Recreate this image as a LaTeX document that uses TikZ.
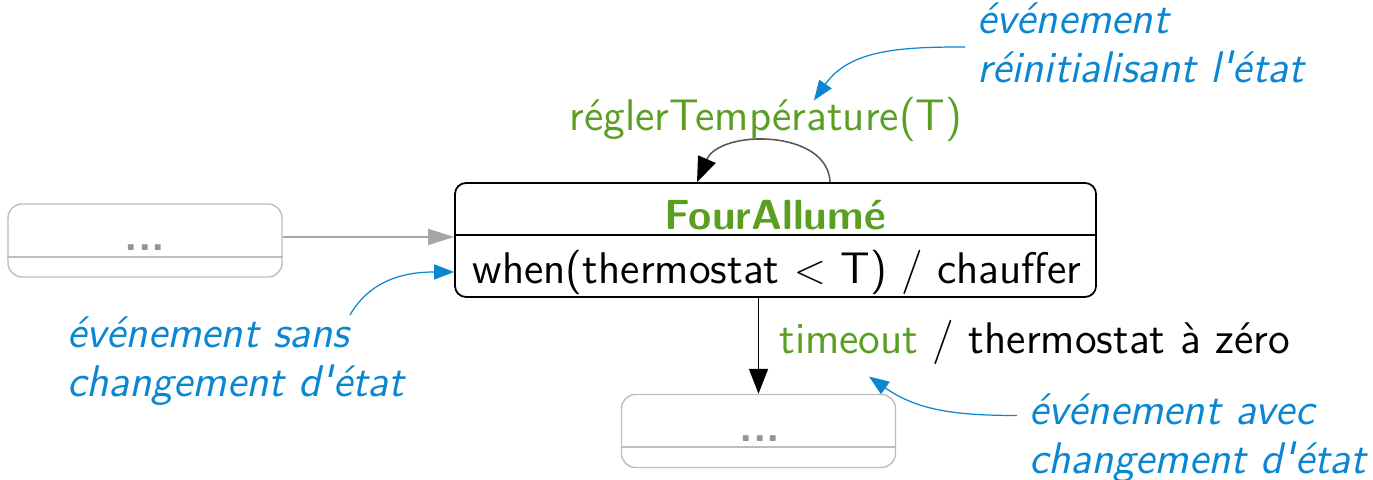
\documentclass[tikz,border=0pt]{standalone}
\usepackage{fontspec}
\setsansfont{Latin Modern Sans}[Ligatures=TeXOff]
\usetikzlibrary{positioning, arrows.meta}
\definecolor{stGreen}{HTML}{5A9E22}
\definecolor{noteBlue}{HTML}{0A86D2}
\definecolor{ghostGray}{HTML}{BDBDBD}
\tikzset{
  every node/.style={font=\sffamily\fontsize{12.6}{14}\selectfont},
  arr/.style={-{Triangle[length=2.5mm, width=1.9mm, color=black]}, line width=0.45pt},
  arrGhost/.style={-{Triangle[length=2.6mm, width=1.6mm]}, line width=0.45pt, black!35},
  arrNote/.style={-{Triangle[length=2mm, width=1.5mm]}, noteBlue, line width=0.35pt},
  state/.style={draw, rounded corners=1.1mm, minimum width=64.1mm, minimum height=11.4mm, line width=0.5pt},
  ghost/.style={draw=ghostGray, rounded corners=1.4mm, minimum width=27.4mm, minimum height=7.3mm},
  dots/.style={text=black!42, font=\sffamily\bfseries\fontsize{12.6}{14}\selectfont},
  note/.style={text=noteBlue, font=\sffamily\itshape\fontsize{12.6}{14}\selectfont, align=left, anchor=west},
}

\begin{document}
\begin{tikzpicture}[x=0.1mm, y=0.1mm]
  \useasboundingbox (0,0) rectangle (1373,480);
  % the state and its internal transition
  \node[state] (four) at (775.5,240) {};
  \node[text=stGreen, font=\sffamily\bfseries\fontsize{12}{14}\selectfont] (name) at (775,265) {FourAllumé};
  \node (when) at (777,208) {when(thermostat $<$ T) / chauffer};
  \draw[line width=0.5pt] (four.west |- 0,245) -- (four.east |- 0,245);
  % states left out
  \node[ghost] (prev) at (145,239.5) {};
  \node[ghost] (next) at (758.5,49) {};
  \node[dots] at (145,232) {...};
  \node[dots] at (760,41) {...};
  \foreach \g/\y in {prev/223, next/33}
    \draw[ghostGray] (\g.west |- 0,\y) -- (\g.east |- 0,\y);
  % transitions
  \draw[arrGhost] ([yshift=0.35mm]prev.east) -- ([yshift=0.35mm]prev.east -| four.west);
  \draw[arr, black!65] ([xshift=5.45mm]four.north) .. controls +(-2,53) and +(23,53) .. ([xshift=-7.85mm]four.north);
  \node[text=stGreen] (reg) at (766,361) {réglerTempérature(T)};
  \draw[arr] (four.south -| next.north) -- (next.north);
  \node[anchor=west] (trans) at (767,138) {\textcolor{stGreen}{timeout} / thermostat à zéro};
  % notes
  \node[note] (noteReg) at (965,437) {événement\\réinitialisant l'état};
  \node[note] (noteSans) at (55,119) {événement sans\\changement d'état};
  \node[note] (noteAvec) at (1017,41.5) {événement avec\\changement d'état};
  \coordinate (sansFrom) at (350,165);
  \draw[arrNote] ([yshift=-0.4mm]noteReg.west) to[out=180, in=55] ([shift={(4.8mm,-1.6mm)}]reg.north);
  \draw[arrNote] (sansFrom) to[out=60, in=180] (four.west |- when);
  \draw[arrNote] ([yshift=2.3mm]noteAvec.west) to[out=180, in=-35] ([xshift=10.2mm]trans.south west);
\end{tikzpicture}
\end{document}
